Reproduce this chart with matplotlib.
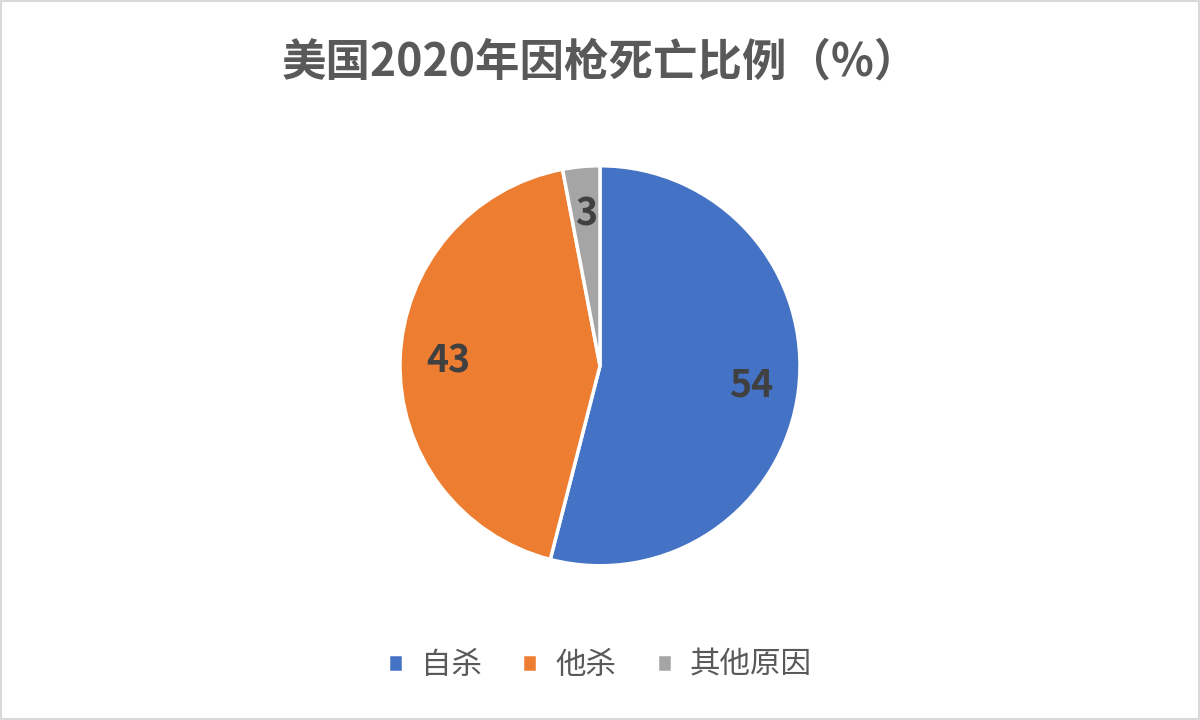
import matplotlib.pyplot as plt
from matplotlib.patches import Rectangle

plt.rcParams['font.family'] = ['Noto Sans CJK SC', 'DejaVu Sans']

categories = ['自杀', '他杀', '其他原因']
values = [54, 43, 3]
colors = ['#4472C4', '#ED7D31', '#A5A5A5']

fig = plt.figure(figsize=(12, 7.2), dpi=100)
fig.patches.append(Rectangle((0.001, 0.001), 0.998, 0.998, transform=fig.transFigure,
                             fill=False, edgecolor='#D9D9D9', linewidth=1.5))

ax = fig.add_axes([1 / 3, 0.214, 1 / 3, 0.556])
wedges, texts, autotexts = ax.pie(values, colors=colors, startangle=90, counterclock=False,
                                  autopct=lambda p: '%d' % round(p), pctdistance=0.76,
                                  wedgeprops=dict(edgecolor='white', linewidth=2.5),
                                  textprops=dict(color='#404040', fontsize=27, fontweight='bold'))
ax.set_xlim(-1, 1)
ax.set_ylim(-1, 1)

fig.text(0.5, 0.913, '美国2020年因枪死亡比例（%）', ha='center', va='center',
         fontsize=32, color='#595959', fontweight='bold')

fig.legend(wedges, categories, loc='center', bbox_to_anchor=(0.5, 0.076), ncol=3,
           frameon=False, prop=dict(size=22, weight='medium'), labelcolor='#595959',
           handlelength=0.5, handleheight=0.5, handletextpad=0.6, columnspacing=1.3)

fig.savefig('out.png', dpi=100)
